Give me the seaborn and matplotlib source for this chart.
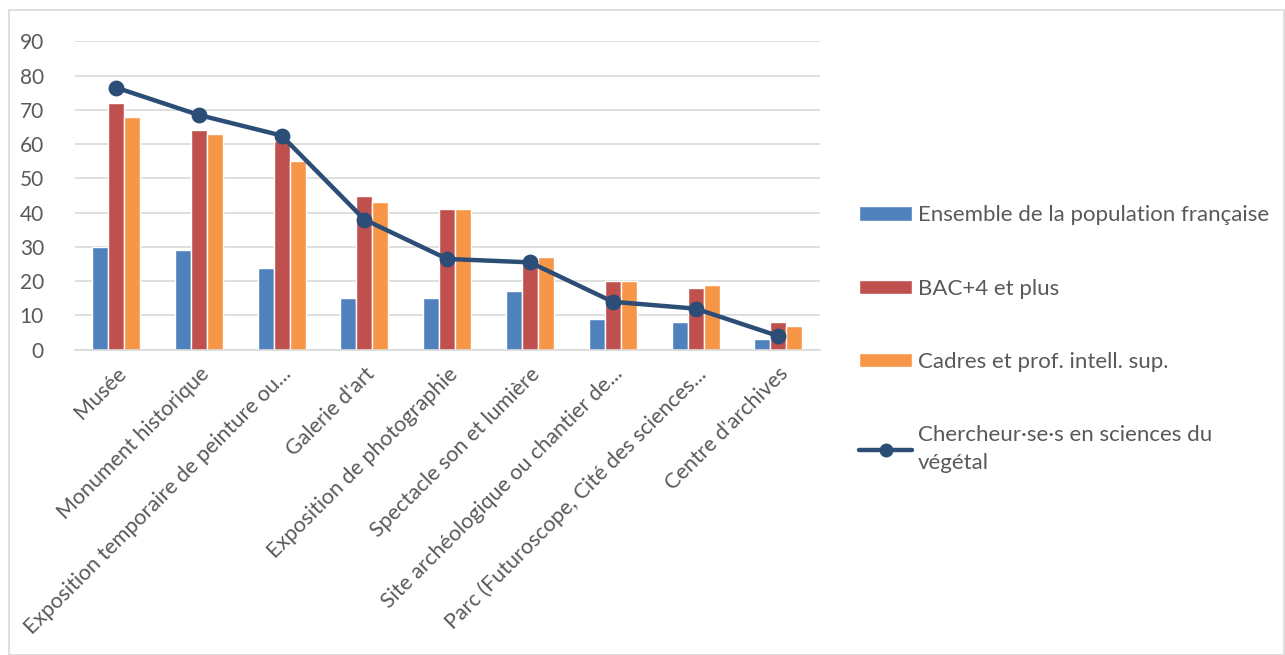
import numpy as np
import matplotlib.pyplot as plt
import seaborn as sb
import pandas as pd
from matplotlib.patches import Rectangle, Patch
from matplotlib.lines import Line2D

# DATA
#-----------------------
categories = ["Musée", "Monument historique", "Exposition temporaire de peinture ou...",
              "Galerie d'art", "Exposition de photographie", "Spectacle son et lumière",
              "Site archéologique ou chantier de...", "Parc (Futuroscope, Cité des sciences...",
              "Centre d'archives"]
series_names = ["Ensemble de la population française", "BAC+4 et plus", "Cadres et prof. intell. sup."]
population = [30, 29, 24, 15, 15, 17, 9, 8, 3]
bac4 = [72, 64, 61, 45, 41, 26, 20, 18, 8]
cadres = [68, 63, 55, 43, 41, 27, 20, 19, 7]
line_name = "Chercheur·se·s en sciences du\nvégétal"
chercheurs = [76.5, 68.5, 62.5, 38, 26.5, 25.5, 14, 12, 4]
y_ticks = [0, 10, 20, 30, 40, 50, 60, 70, 80, 90]

bar_colors = ["#4F81BD", "#C0504D", "#F79646"]
line_color = "#2C4D75"
text_color = "#595959"

# BUILD TABLE
#-----------------------
df = pd.DataFrame({
    "categorie": categories * 3,
    "serie": [series_names[0]] * 9 + [series_names[1]] * 9 + [series_names[2]] * 9,
    "valeur": population + bac4 + cadres,
})

# PLOT
#-----------------------
sb.set_style("white")
plt.rcParams["font.family"] = ["Lato", "DejaVu Sans"]

fig = plt.figure(figsize=(12.85, 6.55), dpi=100)
ax = fig.add_axes([0.058, 0.466, 0.58, 0.471])

sb.barplot(data=df, x="categorie", y="valeur", hue="serie", palette=bar_colors,
           width=0.58, saturation=1, ax=ax, legend=False, zorder=2)
sb.pointplot(x=categories, y=chercheurs, color=line_color, markers="o",
             markersize=9, linewidth=3.2, ax=ax, zorder=3)

ax.set_ylim(0, 90)
ax.set_xlim(-0.5, 8.5)
ax.set_yticks(y_ticks)
ax.grid(axis="y", color="#D9D9D9", linewidth=1.2, zorder=0)
ax.set_axisbelow(True)
for s in ["top", "right", "left"]:
    ax.spines[s].set_visible(False)
ax.spines["bottom"].set_color("#D9D9D9")
ax.spines["bottom"].set_linewidth(1.2)
ax.set_xlabel("")
ax.set_ylabel("")
ax.tick_params(axis="y", length=0, labelsize=15, colors=text_color, pad=22)
ax.tick_params(axis="x", length=0, labelsize=15.5, colors=text_color, pad=10)
plt.setp(ax.get_xticklabels(), rotation=45, ha="right", rotation_mode="anchor")

# LEGEND
#-----------------------
handles = [Patch(facecolor=c) for c in bar_colors]
handles.append(Line2D([0], [0], color=line_color, linewidth=3.2, marker="o", markersize=9))
leg = fig.legend(handles, series_names + [line_name], loc="upper left",
                 bbox_to_anchor=(0.653, 0.717), frameon=False, fontsize=16,
                 labelcolor=text_color, handlelength=2.4, handleheight=0.6,
                 handletextpad=0.25, labelspacing=2.4)
leg.get_texts()[3].set_linespacing(1.45)

# CHART BORDER
#-----------------------
fig.patches.append(Rectangle((0.007, 0.0), 0.992, 0.985, transform=fig.transFigure,
                             fill=False, edgecolor="#D9D9D9", linewidth=1.2))

plt.savefig("out.png", dpi=100)
